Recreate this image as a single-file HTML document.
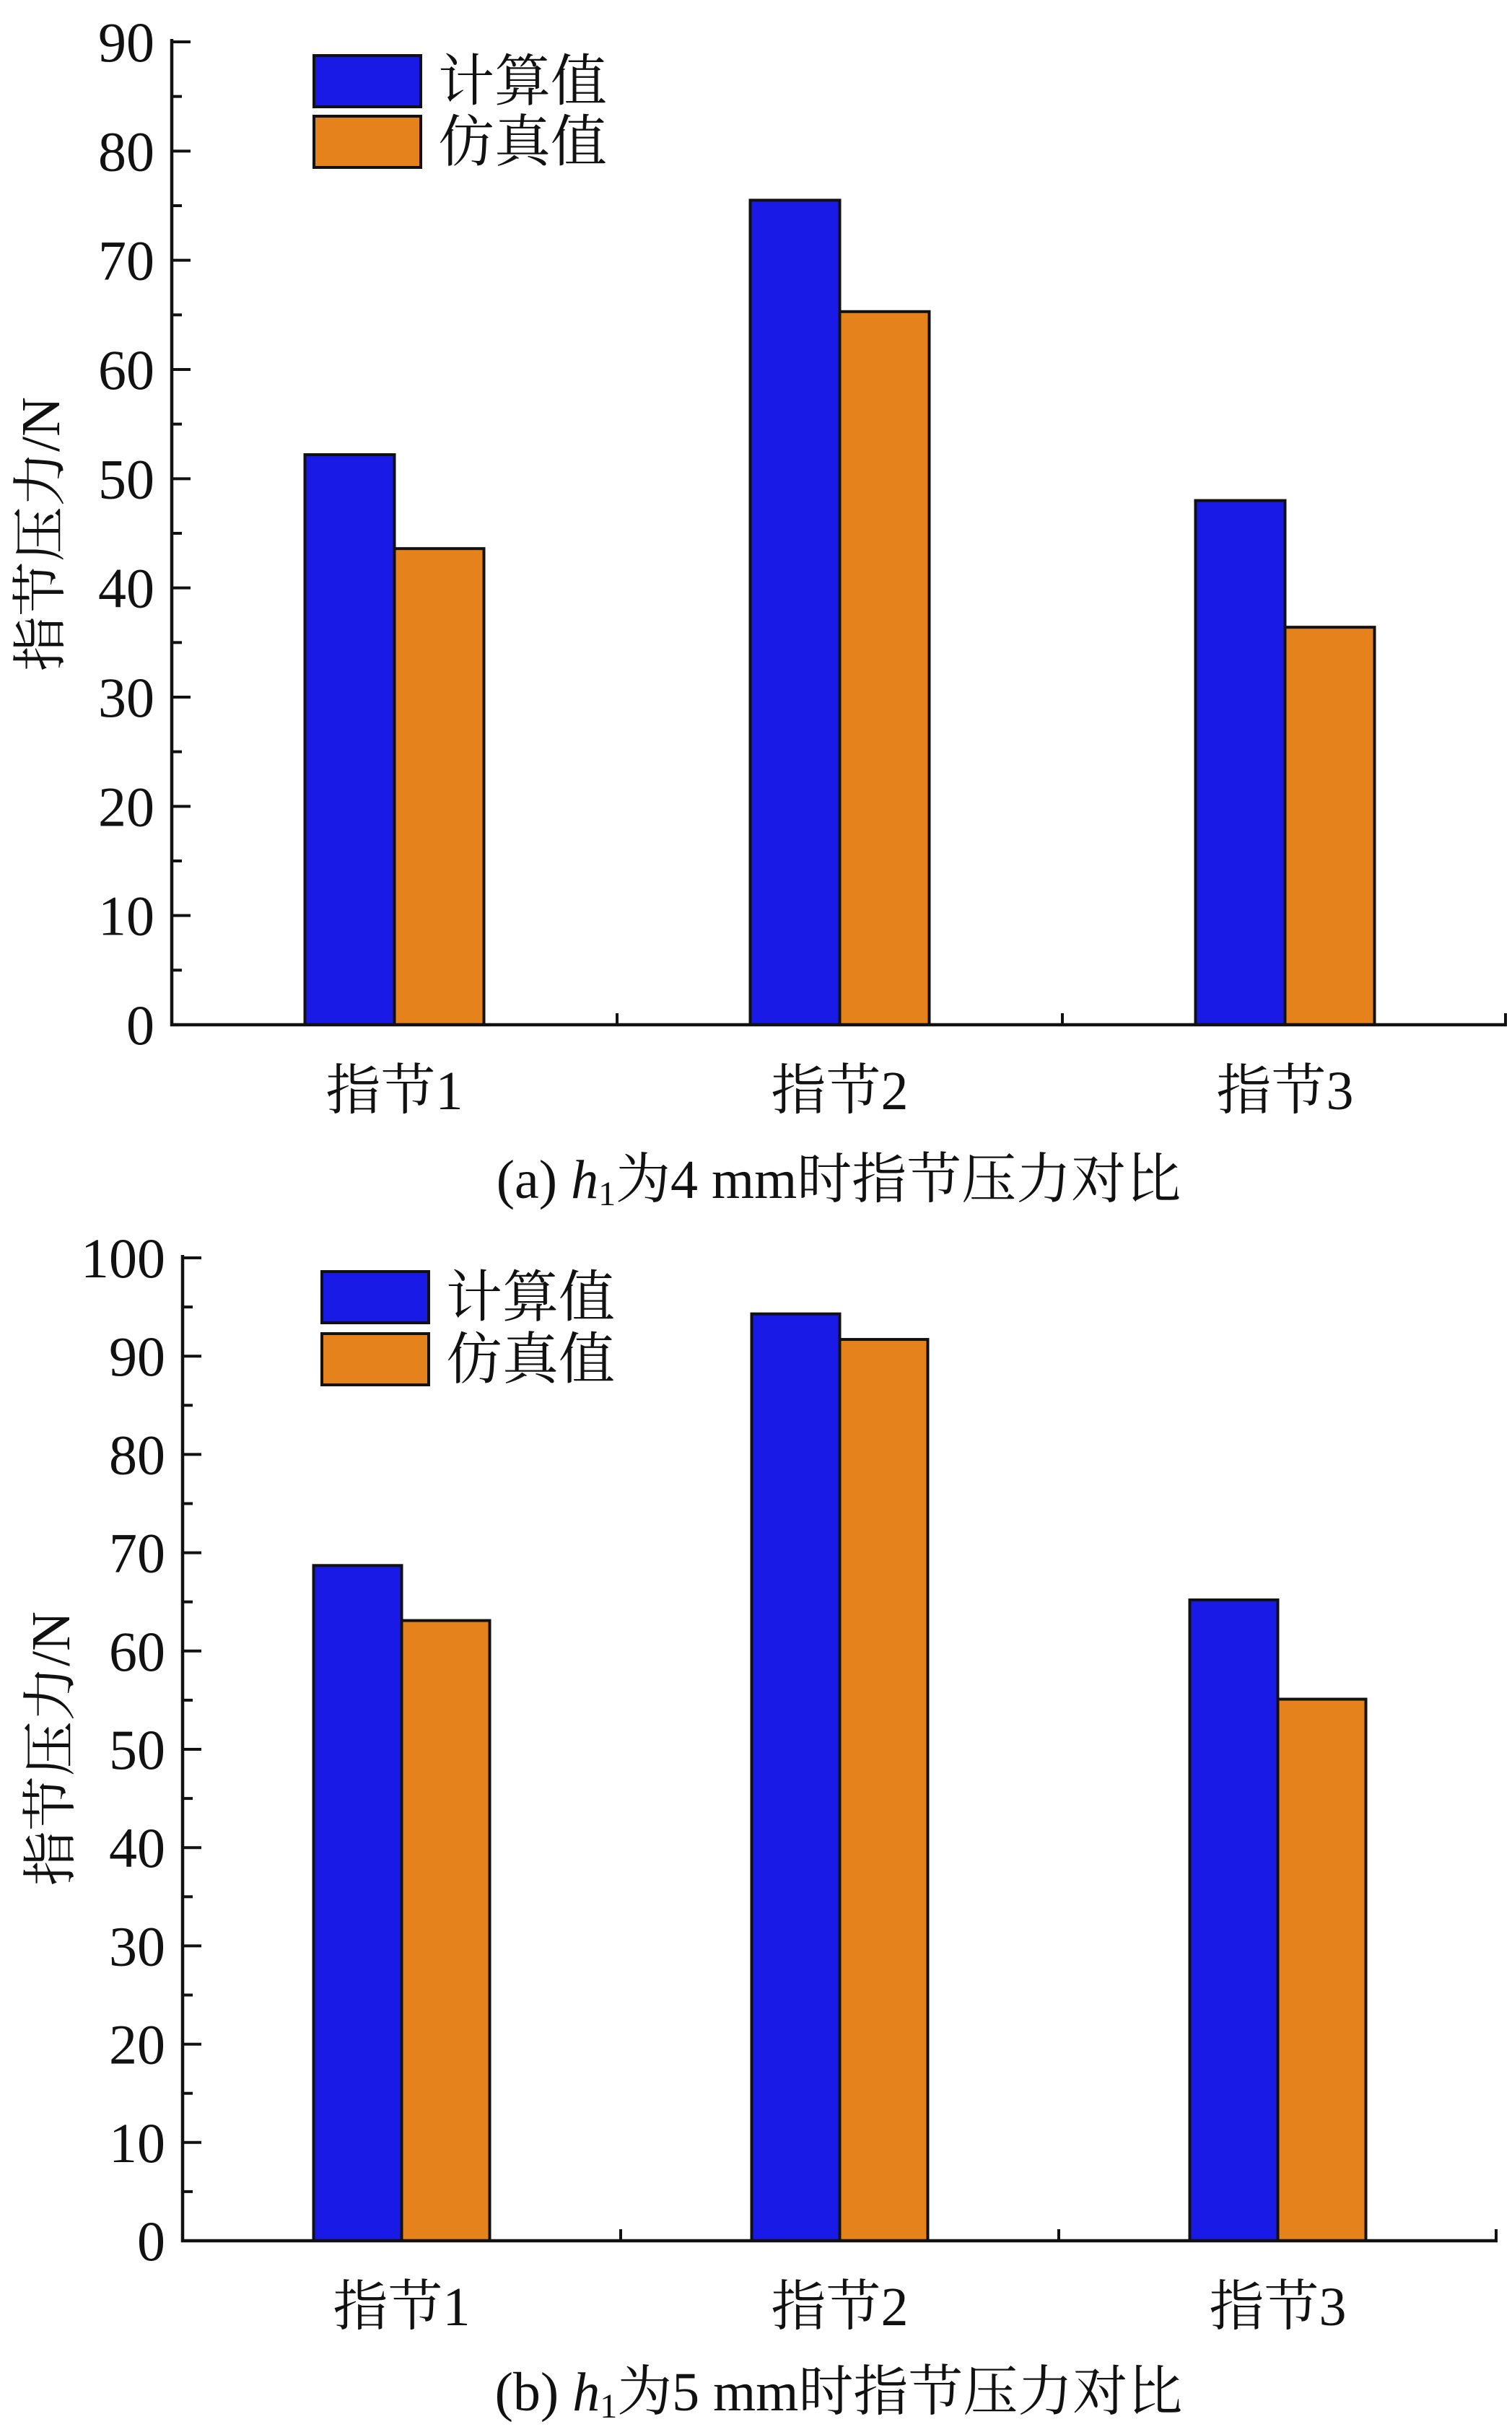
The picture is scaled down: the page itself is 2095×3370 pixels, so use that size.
<!DOCTYPE html>
<html><head><meta charset="utf-8"><style>
html,body{margin:0;padding:0;background:#fff}
svg{display:block}
text{font-family:"Liberation Serif","Noto Serif CJK SC",serif;fill:#111}
</style></head><body>
<svg id="fig" width="2095" height="3370" viewBox="0 0 2095 3370" xmlns="http://www.w3.org/2000/svg"></svg>
<script>
const categories = ["指节1","指节2","指节3"];
const seriesNames = ["计算值","仿真值"];
const calcA = [52.2, 75.5, 48.0];
const simA = [43.6, 65.3, 36.4];
const calcB = [68.7, 94.3, 65.2];
const simB = [63.1, 91.7, 55.1];
const ticksA = [0,10,20,30,40,50,60,70,80,90];
const ticksB = [0,10,20,30,40,50,60,70,80,90,100];
const colors = ["#1a1ae6","#e5821c"];
const NS = "http://www.w3.org/2000/svg";
const svg = document.getElementById('fig');
function mk(tag, attrs, parent, txt){
  const e = document.createElementNS(NS, tag);
  for (const k in attrs) e.setAttribute(k, attrs[k]);
  if (txt !== undefined) e.textContent = txt;
  (parent||svg).appendChild(e);
  return e;
}
function chart(cfg, calc, sim, ticks, id){
  const g = mk('g', {});
  
  
  const yMax = ticks[ticks.length-1];
  const y = v => cfg.y0 - (cfg.y0 - cfg.yTop) * v / yMax;
  const catW = cfg.catW;
  const cx = i => cfg.x0 + catW * (i + 0.5);
  const bw = cfg.bw;
  [calc, sim].forEach((arr, s) => {
    arr.forEach((v, i) => {
      const x = cx(i) - bw + s * bw;
      const r = mk('rect', {x: x, y: y(v), width: bw, height: cfg.y0 - y(v), fill: colors[s], stroke: '#111', 'stroke-width': 4}, g);
      
      
    });
  });
  const ax = mk('path', {d: `M${cfg.x0} ${cfg.yTop-4} V${cfg.y0} H${cfg.x1}`, fill: 'none', stroke: '#111', 'stroke-width': 4.5}, g);
  
  
  ticks.forEach((t, k) => {
    const yy = y(t);
    const tk = mk('line', {x1: cfg.x0, x2: cfg.x0 + 26, y1: yy, y2: yy, stroke: '#111', 'stroke-width': 4}, g);
    
    
    if (k < ticks.length - 1) {
      const ym = y(t + (ticks[1]-ticks[0]) / 2);
      const mt = mk('line', {x1: cfg.x0, x2: cfg.x0 + 14, y1: ym, y2: ym, stroke: '#111', 'stroke-width': 4}, g);
      
      
    }
    const lb = mk('text', {x: cfg.x0 - 24, y: yy + 27, 'text-anchor': 'end', 'font-size': 78}, g, String(t));
    
    
  });
  for (let i = 1; i < categories.length; i++) {
    const xt = cfg.x0 + catW * i;
    const ct = mk('line', {x1: xt, x2: xt, y1: cfg.y0, y2: cfg.y0 - 16, stroke: '#111', 'stroke-width': 4}, g);
    
    
  }
  const ce = mk('line', {x1: cfg.x1 - 2, x2: cfg.x1 - 2, y1: cfg.y0, y2: cfg.y0 - 16, stroke: '#111', 'stroke-width': 4}, g);
  
  
  categories.forEach((c, i) => {
    const t = mk('text', {x: cx(i), y: cfg.catY, 'text-anchor': 'middle', 'font-size': 76}, g, c);
    
    
  });
  const yt = mk('text', {x: 0, y: 0, 'text-anchor': 'middle', 'font-size': 76, transform: `translate(${cfg.ytx},${cfg.yty}) rotate(-90)`}, g, '指节压力/N');
  
  
  seriesNames.forEach((n, s) => {
    const by = cfg.legY + s * cfg.legStep;
    const lr = mk('rect', {x: cfg.legX, y: by, width: 148, height: 71, fill: colors[s], stroke: '#111', 'stroke-width': 4}, g);
    
    
    const lt = mk('text', {x: cfg.legX + 172, y: by + 62, 'font-size': 78}, g, n);
    
    
  });
  const cap = mk('text', {x: 1162, y: cfg.capY, 'text-anchor': 'middle', 'font-size': 76}, g);
  
  
  mk('tspan', {}, cap, cfg.capPre + ' ');
  mk('tspan', {'font-style': 'italic'}, cap, 'h');
  mk('tspan', {'font-size': 48, dy: 10}, cap, '1');
  mk('tspan', {dy: -10}, cap, cfg.capPost);
}
chart({x0: 238, x1: 2088, y0: 1420, yTop: 58, catW: 617, bw: 124, catY: 1537, ytx: 82, yty: 740,
       legX: 435, legY: 77, legStep: 84, capY: 1660, capPre: '(a)', capPost: '为4 mm时指节压力对比'},
      calcA, simA, ticksA, 'a');
chart({x0: 253, x1: 2075, y0: 3105, yTop: 1743, catW: 607, bw: 122, catY: 3222, ytx: 96, yty: 2423,
       legX: 446, legY: 1762, legStep: 86, capY: 3340, capPre: '(b)', capPost: '为5 mm时指节压力对比'},
      calcB, simB, ticksB, 'b');
</script>
</body></html>
